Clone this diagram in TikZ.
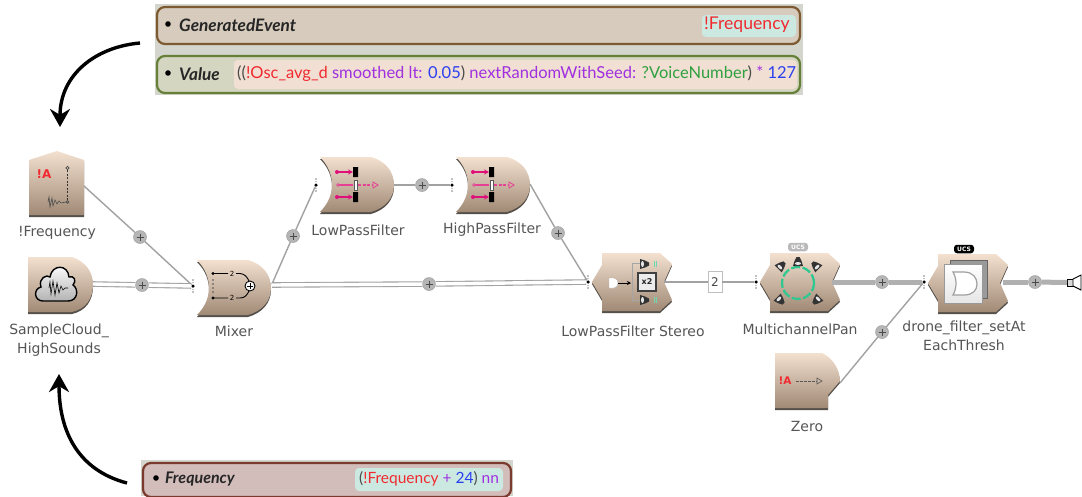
\documentclass[tikz,border=0pt]{standalone}
\usepackage{fontspec}
\setmainfont{DejaVu Sans}
\newfontfamily\panelfont{Lato}
\usetikzlibrary{arrows.meta,calc}
\definecolor{lblgray}{HTML}{555555}
\definecolor{modtop}{HTML}{F3E0CF}
\definecolor{modbot}{HTML}{A08A76}
\definecolor{modshad}{HTML}{55504A}
\definecolor{wire}{HTML}{A2A2A2}
\definecolor{wredd}{HTML}{F02A30}
\definecolor{wpurp}{HTML}{A030E0}
\definecolor{wblue}{HTML}{2A40F0}
\definecolor{wgreen}{HTML}{30A040}
\definecolor{wdark}{HTML}{4A4A4A}
\definecolor{fpink}{HTML}{E0107A}
\definecolor{mint}{HTML}{30C890}
\definecolor{pbg}{HTML}{D4D5CC}
\definecolor{p1f}{HTML}{D6CBBC}\definecolor{p1d}{HTML}{7D5A32}
\definecolor{p2f}{HTML}{D4D6C2}\definecolor{p2d}{HTML}{66803A}
\definecolor{p3f}{HTML}{D2BDBA}\definecolor{p3d}{HTML}{7B3A2E}
\definecolor{chipmint}{HTML}{CCE9E1}\definecolor{chippeach}{HTML}{F0DFD2}
\definecolor{pageb}{HTML}{9A9A9A}
\tikzset{
 x=1pt,y=-1pt,
 modfill/.style={top color=modtop,bottom color=modbot,draw=none},
 modshadow/.style={fill=modshad,draw=none},
 lbl/.style={text=lblgray,font=\fontsize{14}{19}\selectfont,align=center,inner sep=0pt},
 plusb/.style={circle,fill=wire!80,draw=wire,line width=.5pt,minimum size=13pt,inner sep=0pt,
   path picture={\draw[wdark,line width=.6pt] (path picture bounding box.center) +(-3.5,0) -- +(3.5,0) +(0,-3.5) -- +(0,3.5);}},
 portd/.style={circle,fill=black,minimum size=3.5pt,inner sep=0pt},
 wiresingle/.style={draw=wire,line width=1.4pt},
 wiredouble/.style={draw=wire,double=white,double distance=3.4pt,line width=1.1pt},
 wirethick/.style={draw=wire!85,line width=5pt},
 bigarrow/.style={black,line width=3.4pt,-{Stealth[length=18pt,width=20pt]}},
 ptext/.style={font=\panelfont\fontsize{15.5}{18}\selectfont,inner sep=0pt,anchor=west},
 ptitle/.style={font=\panelfont\bfseries\itshape\fontsize{17.2}{18}\selectfont,inner sep=0pt,anchor=west,text=black!85},
 chip/.style={fill=#1,rounded corners=4pt,draw=none},
 ucs/.style={rounded corners=3pt,minimum width=20pt,minimum height=8.5pt,inner sep=0pt,font=\fontsize{6}{6}\selectfont\bfseries},
 pink/.style={fpink,line width=1.3pt},
}
\newcommand{\modbody}[1]{\fill[modshadow,yshift=-2pt] #1; \shade[modfill] #1;}
\newcommand{\curvemod}[2]{%
 \begin{scope}[shift={(#1,#2)}]
 \modbody{(0,0) -- (51,0) .. controls (65,4) and (74,14) .. (74,28) .. controls (74,41) and (65,51) .. (51,55) -- (0,55) .. controls (9,46) and (12,36) .. (12,28) .. controls (12,19) and (9,9) .. (0,0) -- cycle}
 \end{scope}}
\newcommand{\hexmod}[2]{%
 \begin{scope}[shift={(#1,#2)}]
 \modbody{(10,0) -- (68,0) -- (80,11) -- (72,29) -- (80,47) -- (68,58) -- (10,58) -- (10,46) -- (0,29) -- (10,12) -- cycle}
 \end{scope}}
\newcommand{\portmk}[1]{%
 \fill[gray] ($(#1)+(0,-6)$) circle (.9pt) ($(#1)+(0,-3.5)$) circle (.7pt) ($(#1)+(0,3.5)$) circle (.7pt) ($(#1)+(0,6)$) circle (.9pt);}
\newcommand{\filticon}[2]{%
 \begin{scope}[shift={(#1,#2)}]
 \fill[fpink] (0,0) circle (2pt) (0,25) circle (2pt);
 \draw[pink,-{Stealth[length=5pt,width=5pt]}] (0,0) -- (16,0);
 \draw[pink,-{Stealth[length=5pt,width=5pt]}] (0,25) -- (16,25);
 \fill[black] (16,-5) rectangle (21,5) (16,20) rectangle (21,30);
 \draw[fpink!80,line width=.7pt] (1,13) circle (1.3pt);
 \draw[fpink!80,line width=1.2pt] (2,13) -- (16,13);
 \draw[gray!70!black,fill=white,line width=.8pt] (17,8) rectangle (20.5,18);
 \draw[fpink!80,dash pattern=on 3pt off 1.5pt,line width=1.2pt] (21,13) -- (36,13);
 \draw[fpink!80,line width=.8pt] (36,10) -- (41,13) -- (36,16) -- cycle;
 \end{scope}}
\newcommand{\spk}[3]{%
 \begin{scope}[shift={(#1,#2)},rotate=#3]
 \fill[black!80] (-5,4) -- (5,4) -- (3.5,-1) -- (1.5,-5) -- (-1.5,-5) -- (-3.5,-1) -- cycle;
 \fill[white!80!gray] (0,1.5) ellipse (3pt and 1.5pt);
 \end{scope}}
\begin{document}
\begin{tikzpicture}
\useasboundingbox (0,0) rectangle (1082,496);
\fill[white] (0,0) rectangle (1082,496);

% ---- top panels
\fill[pbg] (155,4) rectangle (803,95);
\filldraw[fill=p1f,draw=p1d,line width=2.2pt,rounded corners=8pt] (157,7) rectangle (800,44);
\filldraw[fill=p2f,draw=p2d,line width=2.2pt,rounded corners=8pt] (157,56) rectangle (800,93);
\fill[black] (168,24) circle (2.8pt) (168,73) circle (2.8pt);
\node[ptitle] (tGen) at (179,25) {GeneratedEvent};
\node[ptitle] (tVal) at (179,74) {Value};
\fill[chip=chipmint] (702,15) rectangle (796,37);
\node[ptext,text=wredd,font=\panelfont\fontsize{17.6}{18}\selectfont] (vGen) at (704,25) {!Frequency};
\fill[chip=chippeach] (234,60) rectangle (797,89);
\node[ptext,font=\panelfont\fontsize{16.5}{18}\selectfont] (vVal) at (237,74) {\textcolor{wdark}{((}\textcolor{wredd}{!Osc\_avg\_d} \textcolor{wpurp}{smoothed lt:} \textcolor{wblue}{0.05}\textcolor{wdark}{)} \textcolor{wpurp}{nextRandomWithSeed:} \textcolor{wgreen}{?VoiceNumber}\textcolor{wdark}{)} \textcolor{wpurp}{*} \textcolor{wblue}{127}};

% ---- bottom panel
\fill[pbg] (141,460) rectangle (513,496);
\filldraw[fill=p3f,draw=p3d,line width=2.2pt,rounded corners=8pt] (143,463) rectangle (511,497);
\fill[black] (156,478) circle (2.8pt);
\node[ptitle,font=\panelfont\bfseries\itshape\fontsize{16}{18}\selectfont] (tFreq) at (165,479) {Frequency};
\fill[chip=chipmint] (355,468) rectangle (503,491);
\node[ptext] (vFreq) at (359,479) {\textcolor{wdark}{(}\textcolor{wredd}{!Frequency} \textcolor{wpurp}{+} \textcolor{wblue}{24}\textcolor{wdark}{)} \textcolor{wpurp}{nn}};

% ---- big arrows
\coordinate (aTopS) at (140,43);
\coordinate (aTopE) at (60,127);
\coordinate (aBotS) at (127,483);
\coordinate (aBotE) at (59,374);
\draw[bigarrow] (aTopS) .. controls (95,47) and (60,75) .. (aTopE);
\draw[bigarrow] (aBotS) .. controls (85,472) and (59,440) .. (aBotE);

% ---- modules
% !Frequency
\modbody{(29,160) -- (57,151) -- (84,160) -- (84,215) -- (29,215) -- cycle}
\node[text=wredd,font=\bfseries\fontsize{12}{12}\selectfont,inner sep=0pt] (iA1) at (44,174) {!A};
\draw[black!80,line width=1pt,dash pattern=on 2pt off 1.5pt] (67.5,170) -- (67.5,201);
\draw[black!70,line width=.6pt] (67.5,168) circle (1.6pt) (67.5,202) circle (1.4pt);
\draw[black!70,line width=.6pt] (48,202) -- (49,197) -- (50,207) -- (52,198) -- (53,206) -- (55,200) -- (57,204) -- (59,201) -- (61,203) -- (66,202);
% SampleCloud
\modbody{(28,257) -- (72,257) .. controls (86,262) and (93,272) .. (93,285) .. controls (93,298) and (86,309) .. (72,312) -- (28,312) -- cycle}
\shade[top color=white,bottom color=gray!60,draw=black,line width=1.4pt]
 (43,301) .. controls (34,301) and (33,289) .. (41,287) .. controls (38,278) and (47,274) .. (50,277) .. controls (52,264) and (68,264) .. (69,277) .. controls (74,275) and (77,281) .. (73,285) .. controls (79,289) and (78,301) .. (68,301) -- cycle;
\draw[black,line width=.6pt] (49,288) -- (50,282) -- (51,294) -- (53,281) -- (55,295) -- (57,283) -- (59,293) -- (61,286) -- (63,290) -- (65,288) -- (68,288);
% Mixer, filters
\curvemod{197}{260}
\draw[black,line width=.9pt] (213,273.5) -- (228,273.5) (236,273.5) -- (240,273.5) .. controls (245,274) and (247,277) .. (249,281);
\draw[black,line width=.9pt] (213,298) -- (228,298) (236,298) -- (240,298) .. controls (245,298) and (247,295) .. (249,291);
\node[text=black,font=\fontsize{7}{7}\selectfont,inner sep=0pt] (m2a) at (232,273.5) {2};
\node[text=black,font=\fontsize{7}{7}\selectfont,inner sep=0pt] (m2b) at (232,298) {2};
\fill[black] (213,273.5) circle (1.6pt) (213,298) circle (1.6pt);
\fill[black!70] (213,280) circle (.8pt) (213,284) circle (.8pt) (213,288) circle (.8pt) (213,292) circle (.8pt);
\filldraw[fill=white,draw=black,line width=.9pt] (250,286) circle (5pt);
\draw[black,line width=1pt] (247,286) -- (253,286) (250,283) -- (250,289);
\curvemod{320}{157}
\filticon{337}{172}
\curvemod{456}{157}
\filticon{473}{172}
% Stereo
\hexmod{592}{253}
\draw[gray!70,line width=1pt] (640,263) -- (632,263) -- (632,300) -- (640,300);
\filldraw[fill=white,draw=gray!60,line width=.4pt] (609,278) -- (614,278) .. controls (617,278) and (618,281) .. (618,283) .. controls (618,285) and (617,288) .. (614,288) -- (609,288) -- cycle;
\draw[black,line width=.9pt,-{Stealth[length=4pt,width=4pt]}] (618,283) -- (631,283);
\filldraw[fill=gray!15,draw=black!75,line width=1.4pt] (638,273) rectangle (656,291);
\node[text=black!85,font=\bfseries\fontsize{8}{8}\selectfont,inner sep=0pt] (x2) at (647,282) {x2};
\spk{644}{264}{-90}
\spk{644}{300}{-90}
\draw[mint!70,line width=.8pt] (654,261) -- (654,267) (656,261) -- (656,267) (654,297) -- (654,303) (656,297) -- (656,303);
% Pan
\hexmod{760}{253}
\draw[mint,line width=2.3pt,dash pattern=on 9pt off 2.5pt] (798,283) circle (16pt);
\spk{781}{266}{-45}
\spk{798}{262}{0}
\spk{816}{266}{45}
\spk{780}{300}{-135}
\spk{817}{300}{135}
\node[ucs,fill=gray!55,text=white] (uPan) at (798,247) {UCS};
% Drone
\hexmod{928}{254}
\filldraw[fill=pageb,draw=gray!80!black,line width=.5pt] (950,260) rectangle (987,298);
\shade[top color=white,bottom color=gray!20,draw=gray!80,line width=.5pt] (944,264) rectangle (982,303);
\draw[gray!75,line width=1.2pt,fill=white] (953,272) -- (964,272) .. controls (973,272) and (977,278) .. (977,284) .. controls (977,290) and (973,295) .. (964,295) -- (953,295) .. controls (957,288) and (957,279) .. (953,272) -- cycle;
\node[ucs,fill=black,text=white] (uDrone) at (964,249) {UCS};
% Zero
\modbody{(775,353) -- (822,353) .. controls (833,358) and (840,370) .. (840,381) -- (828,395) -- (828,408) -- (775,408) -- cycle}
\node[text=wredd,font=\bfseries\fontsize{10.5}{10}\selectfont,inner sep=0pt] (iA2) at (785,381) {!A};
\draw[black!65,line width=1pt,dash pattern=on 3pt off 1pt] (796,381) -- (817,381);
\draw[black!65,line width=.6pt] (817,378) -- (822,381) -- (817,384) -- cycle;
% output speaker
\filldraw[fill=gray!30,draw=black,line width=.9pt] (1067,279) rectangle (1073,286);
\filldraw[fill=white,draw=black,line width=.9pt] (1073,279) -- (1081,275) -- (1081,290) -- (1073,286) -- cycle;
\coordinate (spkOut) at (1067,282.5);

% ---- ports and coordinates
\coordinate (oFreq) at (84,186);
\coordinate (oSamp) at (93,284);
\coordinate (oMixD) at (272,285);
\coordinate (oMixS) at (272,284);
\coordinate (oLow) at (394,185);
\coordinate (oHigh) at (530,184);
\coordinate (oSter) at (664,282);
\coordinate (oPan) at (832,282);
\coordinate (oZero) at (840,383);
\coordinate (oDrone) at (1003,282);
\node[portd] (pMix) at (193,286) {};
\node[portd] (pLow) at (316,185) {};
\node[portd] (pHigh) at (452,185) {};
\node[portd] (pSter) at (588,282) {};
\node[portd] (pPan) at (756,282) {};
\node[portd] (pDrone) at (924,282) {};
\portmk{pMix}\portmk{pLow}\portmk{pHigh}\portmk{pSter}\portmk{pPan}\portmk{pDrone}

% ---- badges
\node[plusb] (b1) at (140,237) {};
\node[plusb] (b2) at (142,285) {};
\node[plusb] (b3) at (293,236) {};
\node[plusb] (b4) at (422,185) {};
\node[plusb] (b5) at (429,284) {};
\node[plusb] (b6) at (558,233) {};
\node[plusb] (b7) at (882,282) {};
\node[plusb] (b8) at (882,332) {};
\node[plusb] (b9) at (1035,282) {};
\node[draw=gray!50,line width=.8pt,fill=white,text=wdark,minimum width=14pt,minimum height=21pt,inner sep=0pt,font=\fontsize{12}{12}\selectfont] (nBox) at (715,282) {2};

% ---- connectors
\draw[wiresingle] (oFreq) -- (b1);
\draw[wiresingle] (b1) -- (pMix);
\draw[wiredouble] (oSamp) -- (b2);
\draw[wiredouble] (b2) -- (pMix);
\draw[wiresingle] (oMixS) -- (b3);
\draw[wiresingle] (b3) -- (pLow);
\draw[wiresingle] (oLow) -- (b4);
\draw[wiresingle] (b4) -- (pHigh);
\draw[wiredouble] (oMixD) -- (b5);
\draw[wiredouble] (b5) -- (pSter);
\draw[wiresingle] (oHigh) -- (b6);
\draw[wiresingle] (b6) -- (pSter);
\draw[wiresingle] (oSter) -- (nBox);
\draw[wiresingle] (nBox) -- (pPan);
\draw[wirethick] (oPan) -- (b7);
\draw[wirethick] (b7) -- (pDrone);
\draw[wiresingle] (oZero) -- (b8);
\draw[wiresingle] (b8) -- (pDrone);
\draw[wirethick] (oDrone) -- (b9);
\draw[wirethick] (b9) -- (spkOut);

% ---- labels
\node[lbl] (lFreq) at (57,233) {!Frequency};
\node[lbl] (lSamp) at (59,340) {SampleCloud\_\\HighSounds};
\node[lbl] (lMix) at (234,331) {Mixer};
\node[lbl] (lLow) at (358,230) {LowPassFilter};
\node[lbl] (lHigh) at (492,230) {HighPassFilter};
\node[lbl] (lSter) at (633,331) {LowPassFilter Stereo};
\node[lbl] (lPan) at (800,329) {MultichannelPan};
\node[lbl] (lDrone) at (964,336) {drone\_filter\_setAt\\EachThresh};
\node[lbl] (lZero) at (807,426) {Zero};
\end{tikzpicture}
\end{document}
